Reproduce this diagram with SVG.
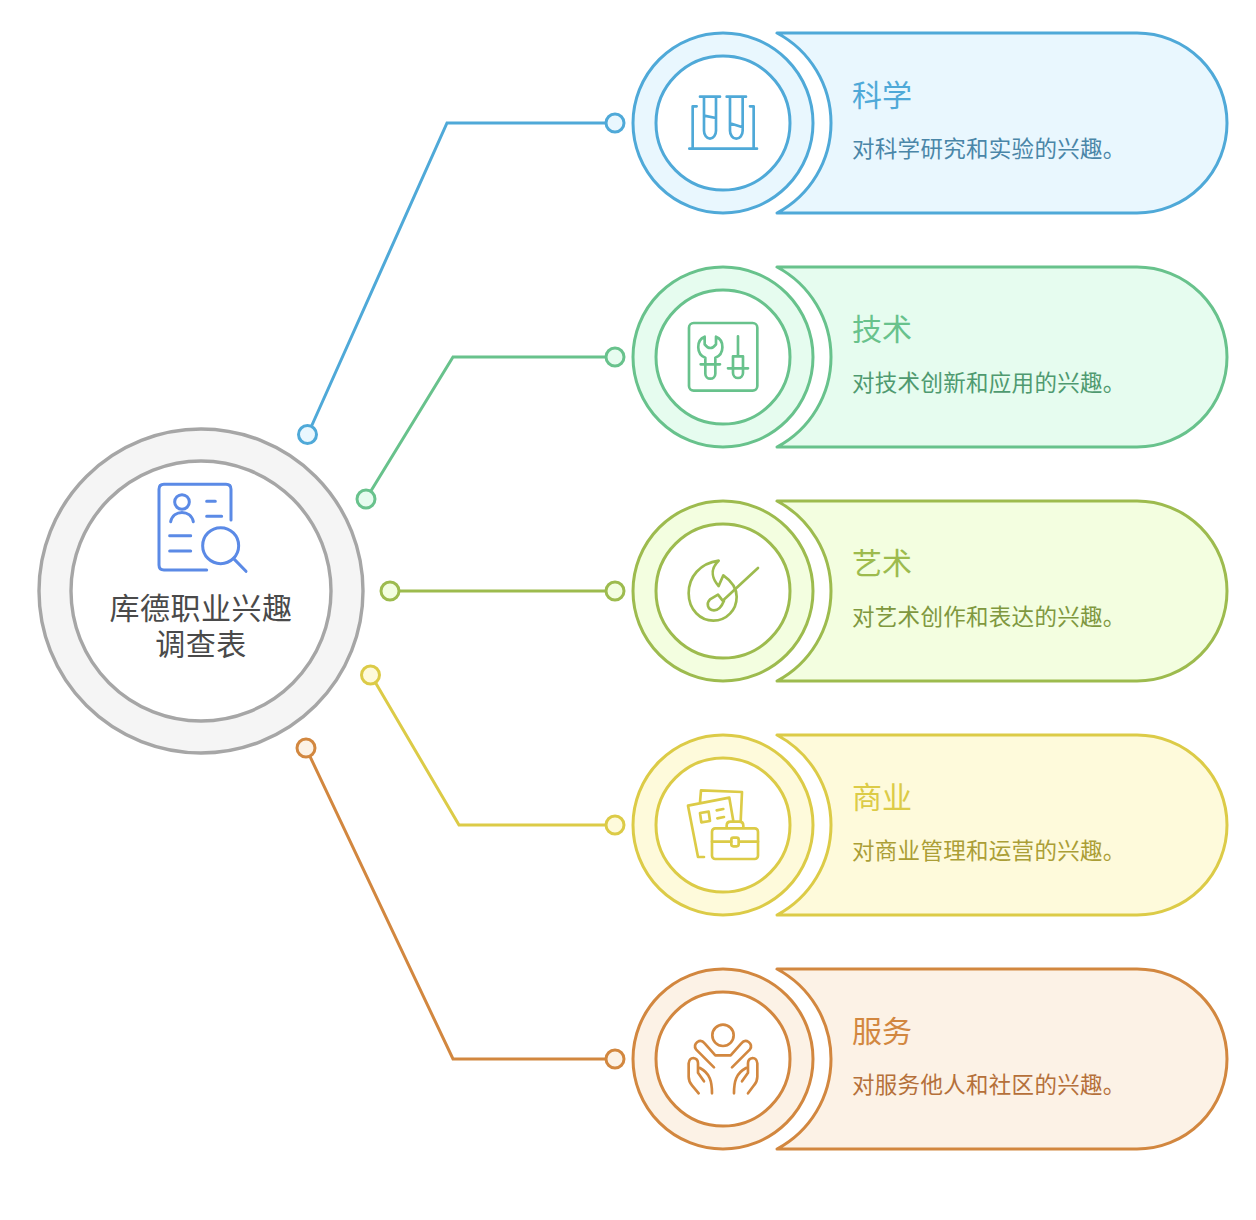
<svg xmlns="http://www.w3.org/2000/svg" width="1256" height="1220" viewBox="0 0 1256 1220">
<style>
text{font-family:"Noto Sans CJK SC","Noto Sans",sans-serif}
.t{font-size:30px}.d{font-size:22.500px;letter-spacing:.3px}.c{font-size:30px;letter-spacing:.5px;fill:#4a4a4a;text-anchor:middle}
.s{stroke-width:3;stroke-linejoin:round}
.i{fill:none;stroke-width:8;stroke-linecap:round;stroke-linejoin:round}
.w{fill:#fff}
.l{fill:none;stroke-width:3}
.dot{stroke-width:3}
.blue .s,.blue .dot{stroke:#4fa9d8}.blue .f,.blue .dot{fill:#e9f7fe}.blue .i{stroke:#4fa9d8}
.green .s,.green .dot{stroke:#68c28c}.green .f,.green .dot{fill:#e6fcef}.green .i{stroke:#68c28c}
.olive .s,.olive .dot{stroke:#9dbb4e}.olive .f,.olive .dot{fill:#f3fee0}.olive .i{stroke:#9dbb4e}
.yellow .s,.yellow .dot{stroke:#dccb47}.yellow .f,.yellow .dot{fill:#fefadb}.yellow .i{stroke:#dccb47}
.orange .s,.orange .dot{stroke:#d2873f}.orange .f,.orange .dot{fill:#fcf2e6}.orange .i{stroke:#d2873f}
</style>
<defs>
<path id="card" d="M777 33H1137A90 90 0 0 1 1137 213H777A102 102 0 0 0 777 33Z"/>
</defs>
<g id="connectors">
<g class="blue"><path class="l" stroke="#4fa9d8" d="M308 434L447 123H615"/><circle class="dot" cx="307.500" cy="434.500" r="9"/><circle class="dot" cx="615" cy="123" r="9"/></g>
<g class="green"><path class="l" stroke="#68c28c" d="M366 499L453 357H615"/><circle class="dot" cx="366" cy="499" r="9"/><circle class="dot" cx="615" cy="357" r="9"/></g>
<g class="olive"><path class="l" stroke="#9dbb4e" d="M390 591H615"/><circle class="dot" cx="390" cy="591" r="9"/><circle class="dot" cx="615" cy="591" r="9"/></g>
<g class="yellow"><path class="l" stroke="#dccb47" d="M371 675L459 825H615"/><circle class="dot" cx="370.500" cy="675" r="9"/><circle class="dot" cx="615" cy="825" r="9"/></g>
<g class="orange"><path class="l" stroke="#d2873f" d="M306 748L453 1059H615"/><circle class="dot" cx="306" cy="748" r="9"/><circle class="dot" cx="615" cy="1059" r="9"/></g>
</g>
<g id="center">
<circle cx="201" cy="591" r="162" fill="#f5f5f5" stroke="#a6a6a6" stroke-width="3.400"/>
<circle cx="201" cy="591" r="130" fill="#fff" stroke="#a6a6a6" stroke-width="3.400"/>
<g transform="translate(140 470) scale(.3333)" fill="none" stroke="#5b8ae6" stroke-width="9" stroke-linecap="round" stroke-linejoin="round">
<path d="M200 300H72Q57 300 57 285V58Q57 43 72 43H258Q273 43 273 58V150"/>
<circle cx="126" cy="96" r="22"/><path d="M92 155C100 118 152 118 160 155"/>
<path d="M200 94H226M200 139H245M89 197H152M89 243H152"/>
<circle cx="242" cy="227" r="54"/><path d="M281 266L318 304"/>
</g>
<text class="c"><tspan x="201" y="619">库德职业兴趣</tspan><tspan x="201" y="655">调查表</tspan></text>
</g>
<g id="science" class="blue">
<use href="#card" class="s f"/>
<circle class="s f" cx="723" cy="123" r="90"/><circle class="s w" cx="723" cy="123" r="67"/>
<g class="i" transform="translate(660 60) scale(.3333)"><path d="M120 110H180M132 110V212A18 24 0 0 0 168 212V110M200 110H258M210 110V212A19 24 0 0 0 248 212V110M132 167L168 174M210 190L248 202M110 139H98V266M270 139H281V266M88 266H291"/></g>
<text class="t" x="852" y="106" fill="#4fa9d8">科学</text>
<text class="d" x="852" y="157" fill="#4a86a8">对科学研究和实验的兴趣。</text>
</g>
<g id="tech" class="green" transform="translate(0 234)">
<use href="#card" class="s f"/>
<circle class="s f" cx="723" cy="123" r="90"/><circle class="s w" cx="723" cy="123" r="67"/>
<g class="i" transform="translate(660 61) scale(.3333)"><rect x="87" y="84" width="205" height="203" rx="14"/>
<path d="M134 125C108 135 108 178 136 188V236A15 15 0 0 0 166 236V188C194 178 194 135 168 125V148Q151 170 134 148ZM122 208H180M234 124V184M219 184H249V234A15 15 0 0 1 219 234ZM204 220H264"/></g>
<text class="t" x="852" y="106" fill="#68c28c">技术</text>
<text class="d" x="852" y="157" fill="#4f9a70">对技术创新和应用的兴趣。</text>
</g>
<g id="art" class="olive" transform="translate(0 468)">
<use href="#card" class="s f"/>
<circle class="s f" cx="723" cy="123" r="90"/><circle class="s w" cx="723" cy="123" r="67"/>
<g class="i" transform="translate(660 62) scale(.3333)"><path d="M176 92C120 100 86 140 86 190C86 240 122 272 160 272C200 272 230 240 230 200C230 172 210 150 190 136L176 168C160 150 146 120 176 92Z"/>
<path d="M294 114L188 212L174 194L150 208C138 220 142 240 162 241C174 241 184 232 192 212"/></g>
<text class="t" x="852" y="106" fill="#9dbb4e">艺术</text>
<text class="d" x="852" y="157" fill="#7f983f">对艺术创作和表达的兴趣。</text>
</g>
<g id="business" class="yellow" transform="translate(0 702)">
<use href="#card" class="s f"/>
<circle class="s f" cx="723" cy="123" r="90"/><circle class="s w" cx="723" cy="123" r="67"/>
<g class="i" transform="translate(660 63) scale(.3333)"><path d="M120 112L123 76L246 81L242 170M132 276L114 276L84 122L208 98L220 168"/>
<path d="M120 144L146 140L150 168L124 172ZM170 136L190 132M172 160L192 156"/>
<rect x="156" y="190" width="138" height="92" rx="10"/><path d="M200 188V182Q200 170 212 170H238Q250 170 250 182V188M156 230H214M238 230H294"/><rect x="214" y="218" width="22" height="26" rx="6"/></g>
<text class="t" x="852" y="106" fill="#dccb47">商业</text>
<text class="d" x="852" y="157" fill="#ab9e36">对商业管理和运营的兴趣。</text>
</g>
<g id="service" class="orange" transform="translate(0 936)">
<use href="#card" class="s f"/>
<circle class="s f" cx="723" cy="123" r="90"/><circle class="s w" cx="723" cy="123" r="67"/>
<g class="i" transform="translate(660 62) scale(.3333)"><circle cx="189" cy="112" r="32"/>
<path d="M162 208L108 154Q100 142 112 132Q124 124 134 136L166 172H212L244 136Q254 124 266 132Q278 142 270 154L216 208"/>
<path d="M116 286L96 262Q86 250 86 236V196Q88 180 100 180Q114 182 114 196V224L132 250M120 210C150 226 156 250 156 286"/>
<path d="M264 286L282 262Q292 250 292 236V196Q290 180 278 180Q264 182 264 196V224L246 250M258 210C228 226 222 250 222 286"/></g>
<text class="t" x="852" y="106" fill="#d2873f">服务</text>
<text class="d" x="852" y="157" fill="#b5703a">对服务他人和社区的兴趣。</text>
</g>
</svg>
